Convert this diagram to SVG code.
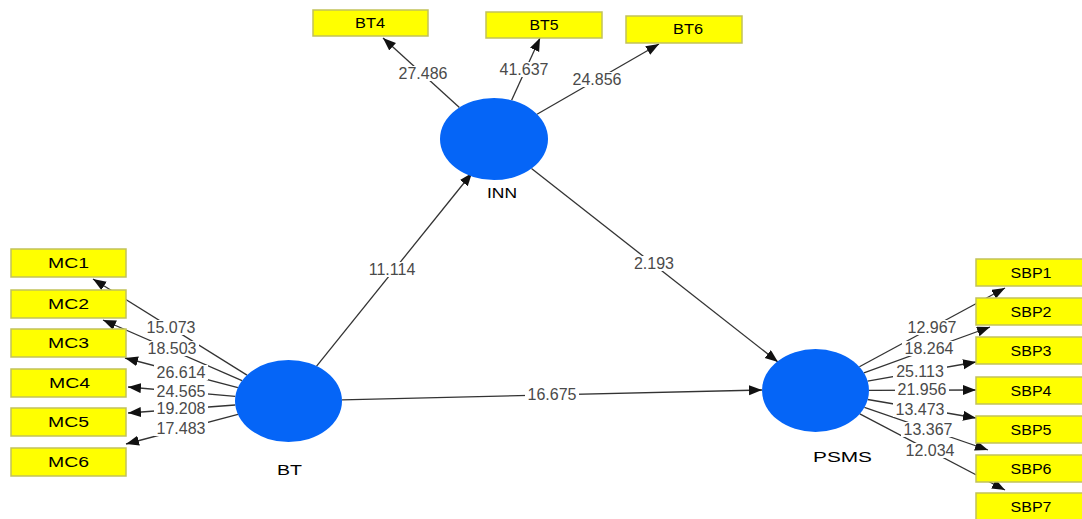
<svg xmlns="http://www.w3.org/2000/svg" width="1082" height="519" viewBox="0 0 1082 519">
<style>
.box{fill:#ffff00;stroke:#c2c25a;stroke-width:1.5}
.bt{font-family:"Liberation Sans",Arial,sans-serif;font-size:14px;fill:#000;text-anchor:middle}
.lv{fill:#0565f7}
.nl{font-family:"Liberation Sans",Arial,sans-serif;font-size:15.5px;fill:#000;text-anchor:middle}
.ln{stroke:#333;stroke-width:1.3;fill:none;marker-end:url(#ah)}
.num{font-family:"Liberation Sans",Arial,sans-serif;font-size:16px;fill:#4a4a4a;text-anchor:middle}
.bg{fill:#fff}
</style>
<defs>
<marker id="ah" markerUnits="userSpaceOnUse" markerWidth="14" markerHeight="11" refX="13" refY="5" orient="auto">
<path d="M0,0 L13,5 L0,10 z" fill="#111"/>
</marker>
</defs>
<rect width="1082" height="519" fill="#fff"/>
<g id="connectors">
<line class="ln" x1="247" y1="375.1" x2="93" y2="279"/>
<line class="ln" x1="242" y1="380.7" x2="103" y2="320"/>
<line class="ln" x1="237.9" y1="387.7" x2="125" y2="358"/>
<line class="ln" x1="235.3" y1="396.4" x2="128" y2="387"/>
<line class="ln" x1="235.2" y1="405" x2="128" y2="413"/>
<line class="ln" x1="238" y1="414.4" x2="126" y2="444"/>
<line class="ln" x1="316.6" y1="366.1" x2="472" y2="173"/>
<line class="ln" x1="342" y1="399.8" x2="762" y2="390"/>
<line class="ln" x1="459.4" y1="107.5" x2="383" y2="38"/>
<line class="ln" x1="511.6" y1="100.3" x2="540" y2="38"/>
<line class="ln" x1="537" y1="114.2" x2="659" y2="44"/>
<line class="ln" x1="531.5" y1="168.5" x2="778" y2="362"/>
<line class="ln" x1="859.4" y1="366.8" x2="1005" y2="288"/>
<line class="ln" x1="863.9" y1="372.9" x2="990" y2="327"/>
<line class="ln" x1="867.6" y1="381.2" x2="976" y2="362"/>
<line class="ln" x1="869" y1="390.3" x2="976" y2="390"/>
<line class="ln" x1="867.7" y1="399.5" x2="976" y2="418"/>
<line class="ln" x1="864.4" y1="407.4" x2="988" y2="450"/>
<line class="ln" x1="859.8" y1="413.8" x2="1005" y2="490"/>
<rect class="bg" x="144" y="320" width="54" height="15"/>
<rect class="bg" x="145" y="341" width="54" height="15"/>
<rect class="bg" x="154" y="365" width="54" height="15"/>
<rect class="bg" x="154" y="384" width="54" height="15"/>
<rect class="bg" x="154" y="401" width="54" height="15"/>
<rect class="bg" x="154" y="421" width="54" height="15"/>
<rect class="bg" x="365" y="262" width="54" height="15"/>
<rect class="bg" x="525" y="387" width="54" height="15"/>
<rect class="bg" x="396" y="66" width="54" height="15"/>
<rect class="bg" x="497" y="62" width="54" height="15"/>
<rect class="bg" x="570" y="72" width="54" height="15"/>
<rect class="bg" x="631" y="256" width="46" height="15"/>
<rect class="bg" x="905" y="320" width="54" height="15"/>
<rect class="bg" x="902" y="341" width="54" height="15"/>
<rect class="bg" x="893" y="364" width="54" height="15"/>
<rect class="bg" x="895" y="382" width="54" height="15"/>
<rect class="bg" x="893" y="402" width="54" height="15"/>
<rect class="bg" x="901" y="422" width="54" height="15"/>
<rect class="bg" x="903" y="443" width="54" height="15"/>
<text class="num" x="171" y="333">15.073</text>
<text class="num" x="172" y="354">18.503</text>
<text class="num" x="181" y="378">26.614</text>
<text class="num" x="181" y="397">24.565</text>
<text class="num" x="181" y="414">19.208</text>
<text class="num" x="181" y="434">17.483</text>
<text class="num" x="392" y="275">11.114</text>
<text class="num" x="552" y="400">16.675</text>
<text class="num" x="423" y="79">27.486</text>
<text class="num" x="524" y="75">41.637</text>
<text class="num" x="597" y="85">24.856</text>
<text class="num" x="654" y="269">2.193</text>
<text class="num" x="932" y="333">12.967</text>
<text class="num" x="929" y="354">18.264</text>
<text class="num" x="920" y="377">25.113</text>
<text class="num" x="922" y="395">21.956</text>
<text class="num" x="920" y="415">13.473</text>
<text class="num" x="928" y="435">13.367</text>
<text class="num" x="930" y="456">12.034</text>
</g>
<g id="BT"><ellipse class="lv" cx="288.5" cy="401" rx="53.5" ry="41"/><text class="nl" x="289.5" y="475" textLength="25" lengthAdjust="spacingAndGlyphs">BT</text></g>
<g id="INN"><ellipse class="lv" cx="494" cy="139" rx="54" ry="41"/><text class="nl" x="502" y="198" textLength="30" lengthAdjust="spacingAndGlyphs">INN</text></g>
<g id="PSMS"><ellipse class="lv" cx="815.5" cy="390.5" rx="53.5" ry="41.5"/><text class="nl" x="842.5" y="462" textLength="59" lengthAdjust="spacingAndGlyphs">PSMS</text></g>
<g id="MC1"><rect class="box" x="11" y="249" width="115" height="28"/><text class="bt" x="68.5" y="268" textLength="41" lengthAdjust="spacingAndGlyphs">MC1</text></g>
<g id="MC2"><rect class="box" x="11" y="290" width="115" height="28"/><text class="bt" x="68.5" y="309" textLength="41" lengthAdjust="spacingAndGlyphs">MC2</text></g>
<g id="MC3"><rect class="box" x="11" y="329" width="115" height="28"/><text class="bt" x="68.5" y="348" textLength="41" lengthAdjust="spacingAndGlyphs">MC3</text></g>
<g id="MC4"><rect class="box" x="11" y="369" width="115" height="28"/><text class="bt" x="69.5" y="388" textLength="41" lengthAdjust="spacingAndGlyphs">MC4</text></g>
<g id="MC5"><rect class="box" x="11" y="408" width="115" height="28"/><text class="bt" x="68.5" y="427" textLength="41" lengthAdjust="spacingAndGlyphs">MC5</text></g>
<g id="MC6"><rect class="box" x="11" y="448" width="115" height="28"/><text class="bt" x="68.5" y="467" textLength="41" lengthAdjust="spacingAndGlyphs">MC6</text></g>
<g id="BT4"><rect class="box" x="313" y="10" width="115" height="26"/><text class="bt" x="370" y="28" textLength="30" lengthAdjust="spacingAndGlyphs">BT4</text></g>
<g id="BT5"><rect class="box" x="486" y="12" width="116" height="26"/><text class="bt" x="544" y="30" textLength="29" lengthAdjust="spacingAndGlyphs">BT5</text></g>
<g id="BT6"><rect class="box" x="626" y="16" width="116" height="27"/><text class="bt" x="688" y="34" textLength="30" lengthAdjust="spacingAndGlyphs">BT6</text></g>
<g id="SBP1"><rect class="box" x="976" y="259" width="110" height="27"/><text class="bt" x="1031" y="277.5" textLength="41" lengthAdjust="spacingAndGlyphs">SBP1</text></g>
<g id="SBP2"><rect class="box" x="976" y="298" width="110" height="27"/><text class="bt" x="1031" y="316.5" textLength="41" lengthAdjust="spacingAndGlyphs">SBP2</text></g>
<g id="SBP3"><rect class="box" x="976" y="337" width="110" height="27"/><text class="bt" x="1031" y="355.5" textLength="41" lengthAdjust="spacingAndGlyphs">SBP3</text></g>
<g id="SBP4"><rect class="box" x="976" y="377" width="110" height="27"/><text class="bt" x="1031" y="395.5" textLength="41" lengthAdjust="spacingAndGlyphs">SBP4</text></g>
<g id="SBP5"><rect class="box" x="976" y="416" width="110" height="27"/><text class="bt" x="1031" y="434.5" textLength="41" lengthAdjust="spacingAndGlyphs">SBP5</text></g>
<g id="SBP6"><rect class="box" x="976" y="455" width="110" height="27"/><text class="bt" x="1031" y="473.5" textLength="41" lengthAdjust="spacingAndGlyphs">SBP6</text></g>
<g id="SBP7"><rect class="box" x="976" y="493" width="110" height="30"/><text class="bt" x="1031" y="511.5" textLength="41" lengthAdjust="spacingAndGlyphs">SBP7</text></g>
</svg>
